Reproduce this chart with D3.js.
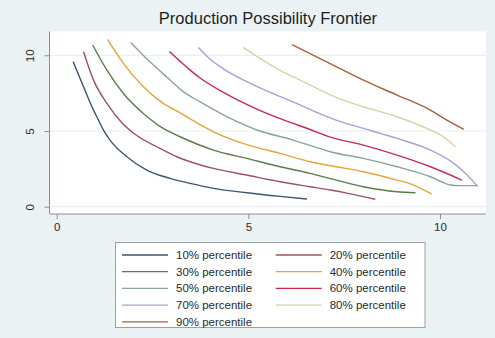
<!DOCTYPE html>
<html>
<head>
<meta charset="utf-8">
<script src="https://cdn.jsdelivr.net/npm/d3@7"></script>
<style>
  html, body { margin: 0; padding: 0; background: #eaf2f3; }
  svg { display: block; font-family: "Liberation Sans", Arial, sans-serif; }
</style>
</head>
<body>
<svg id="chart" width="495" height="338"></svg>
<script>
// Frontier curves, one per percentile: [x, y] pairs
const p10 = [[0.43,9.57],[0.70,7.92],[0.96,6.38],[1.09,5.72],[1.22,5.06],[1.39,4.40],[1.83,3.30],[2.35,2.42],[2.96,1.87],[3.48,1.54],[4.09,1.21],[4.96,0.92],[5.83,0.68],[6.53,0.51]];
const p20 = [[0.70,10.23],[0.96,8.36],[1.31,6.82],[1.70,5.55],[2.09,4.70],[2.61,3.96],[3.13,3.30],[3.48,2.97],[4.09,2.53],[4.96,2.09],[5.83,1.65],[6.61,1.32],[7.14,1.10],[7.60,0.88],[8.31,0.49]];
const p30 = [[0.94,10.67],[1.31,9.02],[1.74,7.48],[2.26,6.16],[2.78,5.17],[3.22,4.62],[4.09,3.74],[4.96,3.19],[5.83,2.64],[6.61,2.20],[7.14,1.85],[8.00,1.32],[8.88,0.99],[9.36,0.92]];
const p40 = [[1.32,11.05],[1.74,9.47],[2.26,7.92],[2.78,6.82],[3.22,6.20],[3.48,5.80],[4.09,4.95],[4.96,4.10],[5.83,3.52],[6.61,2.97],[7.30,2.64],[8.00,2.31],[8.88,1.76],[9.31,1.43],[9.78,0.84]];
const p50 = [[1.93,10.85],[2.44,9.55],[2.90,8.50],[3.30,7.60],[3.72,6.95],[4.40,6.00],[5.30,5.00],[6.10,4.45],[6.61,4.05],[7.14,3.63],[8.00,3.19],[8.88,2.64],[9.75,1.98],[10.27,1.43],[10.50,1.39],[11.00,1.39]];
const p60 = [[2.94,10.25],[3.22,9.60],[3.48,9.02],[3.74,8.50],[4.35,7.55],[5.22,6.45],[5.90,5.75],[6.61,5.10],[7.14,4.60],[8.00,4.07],[8.88,3.41],[9.75,2.64],[10.57,1.76]];
const p70 = [[3.70,10.52],[4.00,9.75],[4.35,9.10],[5.22,7.95],[6.09,7.00],[7.25,5.75],[8.00,5.17],[8.88,4.51],[9.75,3.74],[10.36,2.86],[10.71,2.09],[10.97,1.37]];
const p80 = [[4.86,10.52],[5.66,9.24],[6.53,8.14],[7.25,7.26],[8.00,6.60],[8.88,5.94],[9.75,5.06],[10.09,4.62],[10.40,3.96]];
const p90 = [[6.14,10.70],[7.25,9.30],[8.00,8.36],[8.88,7.37],[9.75,6.38],[10.18,5.72],[10.62,5.11]];

const seriesNames = ["10% percentile","20% percentile","30% percentile","40% percentile","50% percentile","60% percentile","70% percentile","80% percentile","90% percentile"];
const seriesData = [p10, p20, p30, p40, p50, p60, p70, p80, p90];
const seriesColors = ["#3e566b","#9c5560","#5e7a48","#e8a33a","#8aa39e","#c82a52","#a6a1d6","#d8d2a4","#a8603f"];

const xTicks = [0, 5, 10];
const yTicks = [0, 5, 10];
const titleText = "Production Possibility Frontier";

const svg = d3.select("#chart");

// plot region bounds
const plot = { left: 49.5, right: 486, top: 31.5, bottom: 214 };

const x = d3.scaleLinear().domain([0, 10]).range([56.7, 440]);
const y = d3.scaleLinear().domain([0, 10]).range([206.7, 55.3]);

// title
svg.append("text")
  .attr("x", 268).attr("y", 24)
  .attr("text-anchor", "middle")
  .attr("font-size", 16.5)
  .attr("fill", "#1e1e1e")
  .text(titleText);

// white plot area
svg.append("rect")
  .attr("x", plot.left).attr("y", plot.top)
  .attr("width", plot.right - plot.left).attr("height", plot.bottom - plot.top)
  .attr("fill", "#ffffff");

// horizontal grid lines
svg.append("g").selectAll("line").data(yTicks).join("line")
  .attr("x1", plot.left).attr("x2", plot.right)
  .attr("y1", d => y(d)).attr("y2", d => y(d))
  .attr("stroke", "#eaf0f1").attr("stroke-width", 1.2);

// y axis
const yAxis = svg.append("g")
  .attr("transform", `translate(${plot.left},0)`)
  .call(d3.axisLeft(y).tickValues(yTicks).tickSize(5).tickFormat(d3.format("d")));
yAxis.select(".domain").attr("d", `M0,${plot.top}V${plot.bottom}`).attr("stroke", "#8a8f92");
yAxis.selectAll(".tick line").attr("stroke", "#8a8f92");
yAxis.selectAll(".tick text")
  .attr("x", 0).attr("y", 0).attr("dy", 0)
  .attr("transform", "translate(-16,0) rotate(-90)")
  .attr("text-anchor", "middle")
  .attr("font-size", 11.5).attr("fill", "#2a2a2a")
  .attr("font-family", "Liberation Sans, Arial, sans-serif");

// x axis
const xAxis = svg.append("g")
  .attr("transform", `translate(0,${plot.bottom})`)
  .call(d3.axisBottom(x).tickValues(xTicks).tickSize(5).tickFormat(d3.format("d")));
xAxis.select(".domain").attr("d", `M${plot.left},0H${plot.right}`).attr("stroke", "#8a8f92");
xAxis.selectAll(".tick line").attr("stroke", "#8a8f92");
xAxis.selectAll(".tick text")
  .attr("y", 9).attr("dy", "0.71em")
  .attr("font-size", 11.5).attr("fill", "#2a2a2a")
  .attr("font-family", "Liberation Sans, Arial, sans-serif");

// frontier curves
const line = d3.line()
  .x(d => x(d[0])).y(d => y(d[1]))
  .curve(d3.curveMonotoneX);

svg.append("g").selectAll("path").data(seriesData).join("path")
  .attr("d", d => line(d))
  .attr("fill", "none")
  .attr("stroke", (d, i) => seriesColors[i])
  .attr("stroke-width", 1.4)
  .attr("stroke-linejoin", "round");

// legend
const legend = svg.append("g");
legend.append("rect")
  .attr("x", 115.5).attr("y", 242.5)
  .attr("width", 309.5).attr("height", 85)
  .attr("fill", "#ffffff").attr("stroke", "#9aa0a3").attr("stroke-width", 1);

const colX = [122, 275.7];
const rowY0 = 255, rowStep = 16.7;
const items = legend.selectAll("g.item").data(seriesNames).join("g")
  .attr("class", "item")
  .attr("transform", (d, i) => `translate(${colX[i % 2]},${rowY0 + Math.floor(i / 2) * rowStep})`);
items.append("line")
  .attr("x1", 0).attr("x2", 46).attr("y1", 0).attr("y2", 0)
  .attr("stroke", (d, i) => seriesColors[i]).attr("stroke-width", 1.3);
items.append("text")
  .attr("x", 54).attr("y", 0).attr("dy", "0.35em")
  .attr("font-size", 11.5).attr("fill", "#2a2a2a")
  .text(d => d);
</script>
</body>
</html>
